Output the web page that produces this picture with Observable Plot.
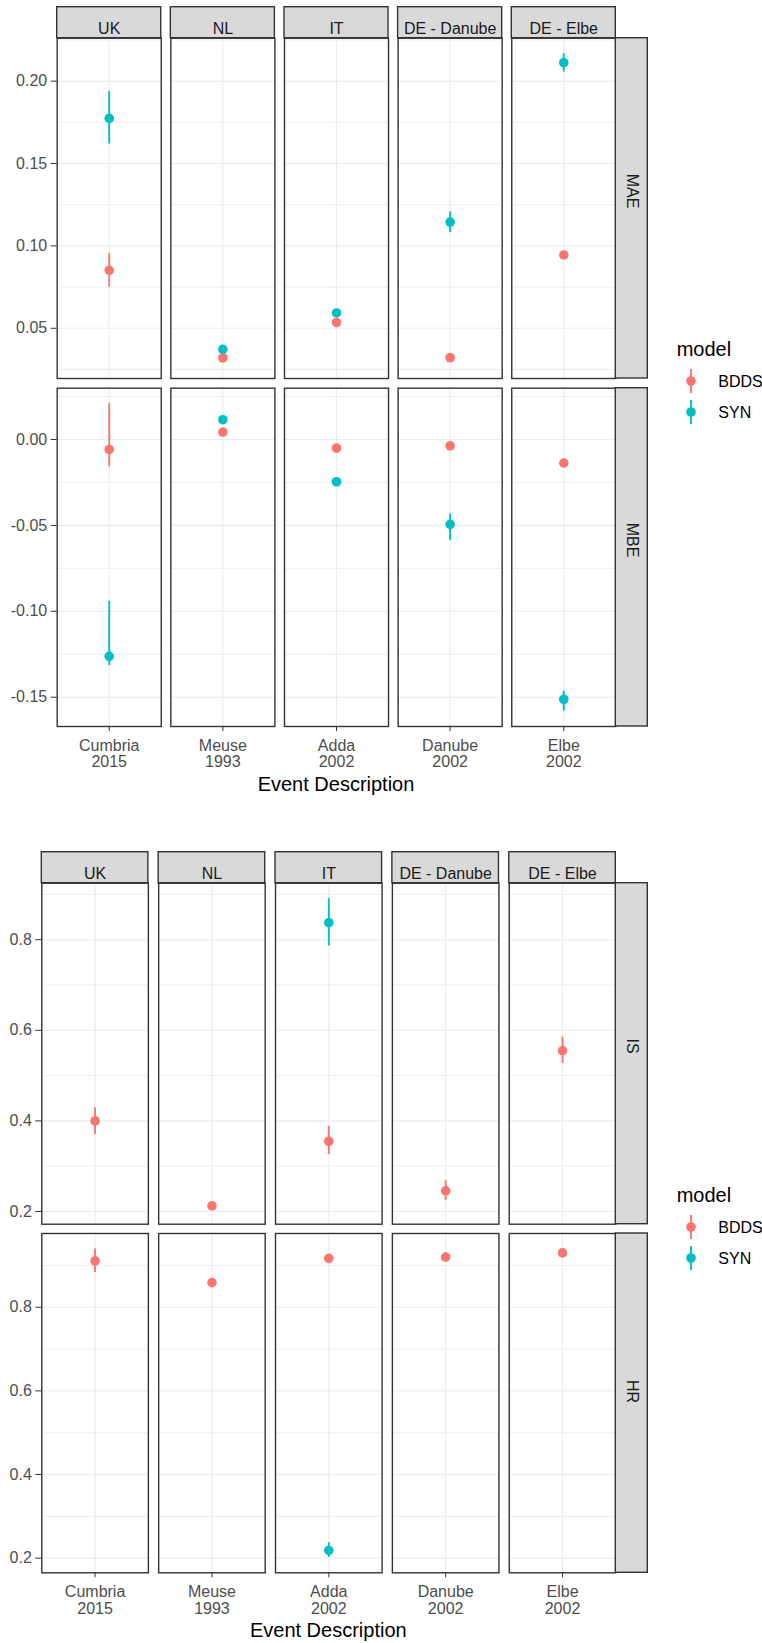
<!DOCTYPE html>
<html>
<head>
<meta charset="utf-8">
<script src="https://cdn.jsdelivr.net/npm/d3@7"></script>
<script src="https://cdn.jsdelivr.net/npm/@observablehq/plot@0.6"></script>
<style>
  body { margin: 0; background: #fff; font-family: "Liberation Sans", Arial, sans-serif; }
  #chart { position: relative; width: 762px; height: 1643px; background: #fff; }
  .xtitle { position: absolute; font-size: 20px; color: #000; transform: translate(-50%, -50%); white-space: nowrap; }
</style>
</head>
<body>
<div id="chart"></div>
<script>
// Facets and categories
const countries = ["UK", "NL", "IT", "DE - Danube", "DE - Elbe"];
const events = ["Cumbria\n2015", "Meuse\n1993", "Adda\n2002", "Danube\n2002", "Elbe\n2002"];
const models = ["BDDS", "SYN"];
const modelColors = ["#F8766D", "#00BFC4"];

// [estimate, lower, upper] per country (in country order); null = no value
const maeBDDS = [[0.0852, 0.0750, 0.0955], [0.0321, 0.0289, 0.0345], [0.0535, 0.0515, 0.0555], [0.0321, 0.0295, 0.0348], [0.0945, 0.0921, 0.0969]];
const maeSYN  = [[0.1774, 0.1618, 0.1939], [0.0372, 0.0352, 0.0392], [0.0593, 0.0575, 0.0610], [0.1145, 0.1080, 0.1207], [0.2112, 0.2055, 0.2167]];
const mbeBDDS = [[-0.0058, -0.0159, 0.0209], [0.0043, 0.0030, 0.0056], [-0.0050, -0.0064, -0.0036], [-0.0037, -0.0050, -0.0024], [-0.0137, -0.0150, -0.0124]];
const mbeSYN  = [[-0.1262, -0.1316, -0.0942], [0.0115, 0.0100, 0.0130], [-0.0246, -0.0260, -0.0232], [-0.0494, -0.0589, -0.0434], [-0.1512, -0.1581, -0.1465]];
const isBDDS  = [[0.400, 0.370, 0.429], [0.2125, 0.2062, 0.219], [0.355, 0.326, 0.388], [0.2457, 0.224, 0.268], [0.555, 0.527, 0.585]];
const isSYN   = [null, null, [0.8375, 0.786, 0.8905], null, null];
const hrBDDS  = [[0.911, 0.883, 0.9395], [0.859, 0.853, 0.865], [0.917, 0.911, 0.923], [0.920, 0.914, 0.926], [0.930, 0.925, 0.935]];
const hrSYN   = [null, null, [0.2184, 0.2019, 0.237], null, null];

// Axis breaks (major labelled, minor unlabelled grid)
const maeTicks = [0.05, 0.10, 0.15, 0.20];
const maeMinor = [0.025, 0.075, 0.125, 0.175, 0.225];
const mbeTicks = [-0.15, -0.10, -0.05, 0.00];
const mbeMinor = [-0.125, -0.075, -0.025, 0.025];
const scoreTicks = [0.2, 0.4, 0.6, 0.8];
const scoreMinor = [0.3, 0.5, 0.7, 0.9];

const FONT = '"Liberation Sans", Arial, sans-serif';
const root = document.getElementById("chart");

function toRows(seriesByModel) {
  const rows = [];
  models.forEach((m, k) => {
    seriesByModel[k].forEach((v, i) => {
      if (v) rows.push({country: countries[i], model: m, value: v[0], lo: v[1], hi: v[2]});
    });
  });
  return rows;
}

// ggplot-style continuous expansion: 5% of the data range on each side
function expanded(rows) {
  const lo = d3.min(rows, d => d.lo), hi = d3.max(rows, d => d.hi);
  const pad = (hi - lo) * 0.05;
  return [lo - pad, hi + pad];
}

function panelRow(o) {
  const rows = toRows(o.series);
  const width = 650;
  const height = o.svgBottom - o.svgTop;
  const marginTop = o.panelTop - o.svgTop;
  const marginBottom = o.svgBottom - o.panelBottom;
  const panelH = o.panelBottom - o.panelTop;
  const step = (o.right - o.left) / (countries.length - o.padInner);
  const bw = step * (1 - o.padInner);
  const last = countries[countries.length - 1];

  const marks = [
    Plot.gridY({ticks: o.minor, stroke: "#ebebeb", strokeOpacity: 1, strokeWidth: 0.9}),
    Plot.gridY({ticks: o.ticks, stroke: "#ebebeb", strokeOpacity: 1, strokeWidth: 1.1}),
    Plot.ruleX(countries, {x: null, fx: d => d, stroke: "#ebebeb", strokeWidth: 1.1}),
    Plot.ruleX(rows, {x: null, fx: "country", y1: "lo", y2: "hi", stroke: "model", strokeWidth: 1.9}),
    Plot.dot(rows, {fx: "country", y: "value", fill: "model", r: 4.8}),
    Plot.frame({stroke: "#333", strokeWidth: 1.4}),
    Plot.axisY({ticks: o.ticks, tickFormat: o.fmt, tickSize: 6, tickPadding: 4, fontSize: 16,
                fill: "#4d4d4d", stroke: "#333", label: null}),
    // metric strip to the right of the last panel
    Plot.rect([o.metric], {fx: () => last, insetLeft: bw, insetRight: -32,
                           fill: "#d9d9d9", stroke: "#333", strokeWidth: 1.4}),
    Plot.text([o.metric], {fx: () => last, text: d => d, frameAnchor: "right", dx: 16,
                           rotate: 90, fontSize: 16, fill: "#1a1a1a"})
  ];
  if (o.strips) {
    marks.push(
      Plot.rect(countries, {fx: d => d, insetTop: -31, insetBottom: panelH,
                            fill: "#d9d9d9", stroke: "#333", strokeWidth: 1.4}),
      Plot.text(countries, {fx: d => d, text: d => d, frameAnchor: "top", dy: -15.5,
                            fontSize: 16, fill: "#1a1a1a"})
    );
  }
  if (o.axis) {
    marks.push(
      Plot.axisFx({anchor: "bottom", tickFormat: c => events[countries.indexOf(c)],
                   tickSize: 5, tickPadding: 7.5, fontSize: 16, lineHeight: 1.04,
                   fill: "#4d4d4d", stroke: "#333", label: null})
    );
  }

  const fig = Plot.plot({
    width, height, marginTop, marginBottom,
    marginLeft: o.left, marginRight: width - o.right,
    style: {background: "transparent", fontFamily: FONT, fontSize: "16px", overflow: "visible"},
    facet: {marginTop: 0, marginRight: 0, marginBottom: 0, marginLeft: 0},
    fx: {domain: countries, paddingInner: o.padInner, paddingOuter: 0, round: false,
         ...(o.axis ? {} : {axis: null})},
    y: {domain: expanded(rows)},
    color: {domain: models, range: modelColors},
    marks
  });
  fig.style.position = "absolute";
  fig.style.left = "0px";
  fig.style.top = o.svgTop + "px";
  root.appendChild(fig);
}

function legend(titleY) {
  const svg = d3.create("svg")
    .attr("width", 112).attr("height", 110)
    .attr("font-family", FONT)
    .style("position", "absolute").style("left", "650px").style("top", (titleY - 20) + "px");
  svg.append("text").attr("x", 26.7).attr("y", 20).attr("dy", "0.35em")
    .attr("font-size", 20).attr("fill", "#000").text("model");
  models.forEach((m, i) => {
    const cy = 52 + i * 31;
    svg.append("line").attr("x1", 41).attr("x2", 41).attr("y1", cy - 12).attr("y2", cy + 12)
      .attr("stroke", modelColors[i]).attr("stroke-width", 1.9);
    svg.append("circle").attr("cx", 41).attr("cy", cy).attr("r", 4.8).attr("fill", modelColors[i]);
    svg.append("text").attr("x", 68.3).attr("y", cy).attr("dy", "0.35em")
      .attr("font-size", 16).attr("fill", "#000").text(m);
  });
  root.appendChild(svg.node());
}

function xTitle(x, y) {
  const d = document.createElement("div");
  d.className = "xtitle";
  d.style.left = x + "px";
  d.style.top = y + "px";
  d.textContent = "Event Description";
  root.appendChild(d);
}

const fmt2 = d => d.toFixed(2);
const fmt1 = d => d.toFixed(1);

// Error metrics
const errorLayout = {left: 56.7, right: 615.3, padInner: 0.0845};
panelRow({...errorLayout, metric: "MAE", series: [maeBDDS, maeSYN], ticks: maeTicks, minor: maeMinor, fmt: fmt2,
          svgTop: 0, panelTop: 37.7, panelBottom: 378, svgBottom: 382, strips: true, axis: false});
panelRow({...errorLayout, metric: "MBE", series: [mbeBDDS, mbeSYN], ticks: mbeTicks, minor: mbeMinor, fmt: fmt2,
          svgTop: 382, panelTop: 387.7, panelBottom: 726, svgBottom: 776, strips: false, axis: true});
xTitle(336, 784);
legend(349);

// Skill scores
const scoreLayout = {left: 41.3, right: 615.3, padInner: 0.0881};
panelRow({...scoreLayout, metric: "IS", series: [isBDDS, isSYN], ticks: scoreTicks, minor: scoreMinor, fmt: fmt1,
          svgTop: 800, panelTop: 882.7, panelBottom: 1223.7, svgBottom: 1228, strips: true, axis: false});
panelRow({...scoreLayout, metric: "HR", series: [hrBDDS, hrSYN], ticks: scoreTicks, minor: scoreMinor, fmt: fmt1,
          svgTop: 1228, panelTop: 1233, panelBottom: 1572.3, svgBottom: 1622, strips: false, axis: true});
xTitle(328.3, 1630);
legend(1195);
</script>
</body>
</html>
